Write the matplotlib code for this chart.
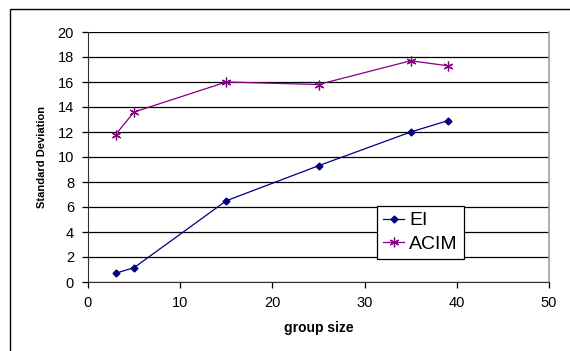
import matplotlib.pyplot as plt
from matplotlib.patches import Rectangle

plt.rcParams['font.family'] = ['Liberation Sans', 'DejaVu Sans']

# Dados
group_size = [3, 5, 15, 25, 35, 39]
ei = [0.7, 1.15, 6.5, 9.3, 12.0, 12.9]
acim = [11.8, 13.6, 16.0, 15.8, 17.7, 17.3]
x_ticks = [0, 10, 20, 30, 40, 50]
y_ticks = list(range(0, 21, 2))

fig = plt.figure(figsize=(5.7, 3.51), dpi=100)
W, H = 570, 351
ax = fig.add_axes([88 / W, 1 - 282 / H, (549 - 88) / W, (282 - 32) / H])

# Moldura externa (só topo e esquerda aparecem)
fig.patches.append(Rectangle((10.5 / W, -0.05), 1.0, 1 - 8.5 / H + 0.05,
                             transform=fig.transFigure, fill=False,
                             edgecolor='black', linewidth=1.0))

ax.plot(group_size, ei, color='#000080', marker='D', markersize=3.5,
        linewidth=0.9, label='EI')
ax.plot(group_size, acim, color='#800080', marker=(6, 2, 0), markersize=7,
        markeredgewidth=0.9, linewidth=0.9, label='ACIM')

ax.set_xlim(0, 50)
ax.set_ylim(0, 20)
ax.set_xticks(x_ticks)
ax.set_yticks(y_ticks)
ax.yaxis.grid(True, color='black', linewidth=0.9)
ax.set_axisbelow(True)

ax.spines['top'].set_visible(False)
ax.spines['right'].set_color('#a0a0a0')
ax.spines['right'].set_linewidth(1.2)
ax.spines['left'].set_color('#303030')
ax.spines['bottom'].set_color('#303030')
ax.tick_params(direction='out', length=4, width=0.9, labelsize=10.5, pad=6)

ax.set_xlabel('group size', fontsize=10, fontweight='bold', labelpad=8)
ax.set_ylabel('Standard Deviation', fontsize=8, fontweight='bold', labelpad=8)

# Legenda
leg = ax.legend(loc='upper left', bbox_to_anchor=(377 / W, 1 - 206 / H),
                bbox_transform=fig.transFigure, fontsize=14, frameon=True,
                fancybox=False, edgecolor='black', framealpha=1,
                borderpad=0.3, handlelength=1.1, handletextpad=0.25,
                labelspacing=0.3, borderaxespad=0)
leg.get_frame().set_linewidth(0.9)

fig.savefig('out.png', dpi=100)
